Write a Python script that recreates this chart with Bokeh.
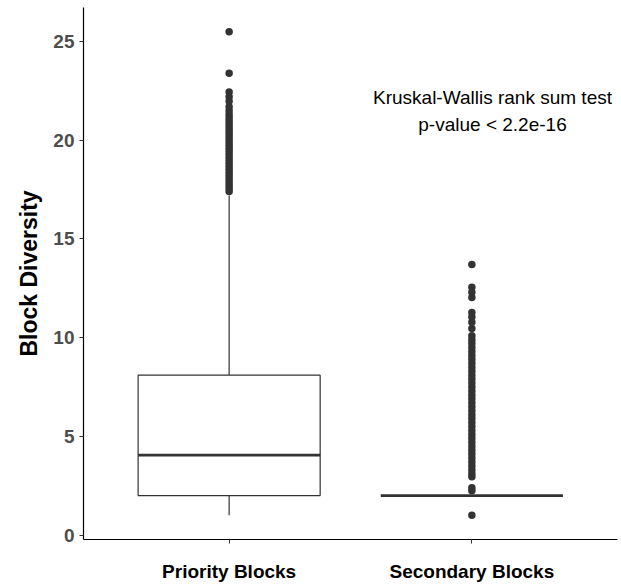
from bokeh.plotting import figure
from bokeh.models import FixedTicker, Range1d, Label, ColumnDataSource
from bokeh.embed import file_html
from bokeh.resources import INLINE

# ---- data ----
categories = ["Priority Blocks", "Secondary Blocks"]
cat_pos = [1, 2]
lower_whisker = [1.0, 2.0]
q1 = [2.0, 2.0]
median = [4.05, 2.0]
q3 = [8.1, 2.0]
upper_whisker = [17.2, 2.0]

priority_outliers = [25.5, 23.4, 22.45, 22.2, 21.97, 21.7, 21.5, 21.3, 21.15, 21.0,
                     20.85, 20.7, 20.55, 20.4, 20.25, 20.1, 19.95, 19.8, 19.65, 19.5,
                     19.35, 19.2, 19.05, 18.9, 18.75, 18.6, 18.45, 18.3, 18.15, 18.0,
                     17.85, 17.7, 17.55, 17.4]
secondary_outliers = [13.7, 12.55, 12.3, 12.04, 11.28, 11.05, 10.78, 10.46, 10.1, 9.9,
                      9.7, 9.5, 9.3, 9.1, 8.9, 8.7, 8.5, 8.3, 8.1, 7.9,
                      7.7, 7.5, 7.3, 7.1, 6.9, 6.7, 6.5, 6.3, 6.1, 5.9,
                      5.7, 5.5, 5.3, 5.1, 4.9, 4.7, 4.5, 4.3, 4.1, 3.9,
                      3.7, 3.5, 3.3, 3.1, 2.95, 2.4, 2.25, 1.0]

y_ticks = [0, 5, 10, 15, 20, 25]
test_lines = ["Kruskal-Wallis rank sum test", "p-value < 2.2e-16"]
test_x = 2.085
test_y = [22.15, 20.8]

box_width = 0.75
FONT = "Liberation Sans"
GREY20 = "#333333"

p = figure(width=621, height=588, output_backend="svg", toolbar_location=None,
           x_range=Range1d(0.4, 2.6), y_range=Range1d(-0.225, 26.725),
           min_border_left=83, min_border_right=4, min_border_top=7, min_border_bottom=49)
p.xgrid.visible = False
p.ygrid.visible = False
p.outline_line_color = None
p.background_fill_color = "white"

half = box_width / 2
src = ColumnDataSource(dict(
    x=cat_pos, lw=lower_whisker, q1=q1, med=median, q3=q3, uw=upper_whisker,
    left=[c - half for c in cat_pos], right=[c + half for c in cat_pos],
))

# whiskers
p.segment(x0="x", y0="q3", x1="x", y1="uw", source=src, line_color=GREY20, line_width=1.2)
p.segment(x0="x", y0="lw", x1="x", y1="q1", source=src, line_color=GREY20, line_width=1.2)
# boxes
p.quad(left="left", right="right", bottom="q1", top="q3", source=src,
       fill_color="white", line_color=GREY20, line_width=1.2)
# medians
p.segment(x0="left", y0="med", x1="right", y1="med", source=src, line_color=GREY20, line_width=2.8)

# outliers
ox = [cat_pos[0]] * len(priority_outliers) + [cat_pos[1]] * len(secondary_outliers)
oy = priority_outliers + secondary_outliers
p.scatter(ox, oy, size=7.5, fill_color=GREY20, line_color=GREY20, line_width=0)

for txt, yy in zip(test_lines, test_y):
    p.add_layout(Label(x=test_x, y=yy, text=txt, text_align="center", text_baseline="middle",
                       text_font=FONT, text_font_size="19px", text_color="black"))

# axes
p.yaxis.ticker = FixedTicker(ticks=y_ticks)
p.xaxis.ticker = FixedTicker(ticks=cat_pos)
p.xaxis.major_label_overrides = {c: n for c, n in zip(cat_pos, categories)}
for ax in (p.xaxis, p.yaxis):
    ax.axis_line_color = "black"
    ax.axis_line_width = 1.2
    ax.major_tick_line_color = GREY20
    ax.major_tick_in = 0
    ax.major_tick_out = 4
    ax.minor_tick_line_color = None
    ax.major_label_text_font = FONT
    ax.major_label_text_font_style = "bold"
    ax.major_label_text_font_size = "19px"
p.yaxis.major_label_text_color = "#4d4d4d"
p.xaxis.major_label_text_color = "black"
p.yaxis.major_label_standoff = 5
p.xaxis.major_label_standoff = 17
p.yaxis.axis_label = "Block Diversity"
p.yaxis.axis_label_text_font = FONT
p.yaxis.axis_label_text_font_style = "bold"
p.yaxis.axis_label_text_font_size = "23px"
p.yaxis.axis_label_text_color = "black"
p.yaxis.axis_label_standoff = 8

open("out.html", "w").write(file_html(p, INLINE))
